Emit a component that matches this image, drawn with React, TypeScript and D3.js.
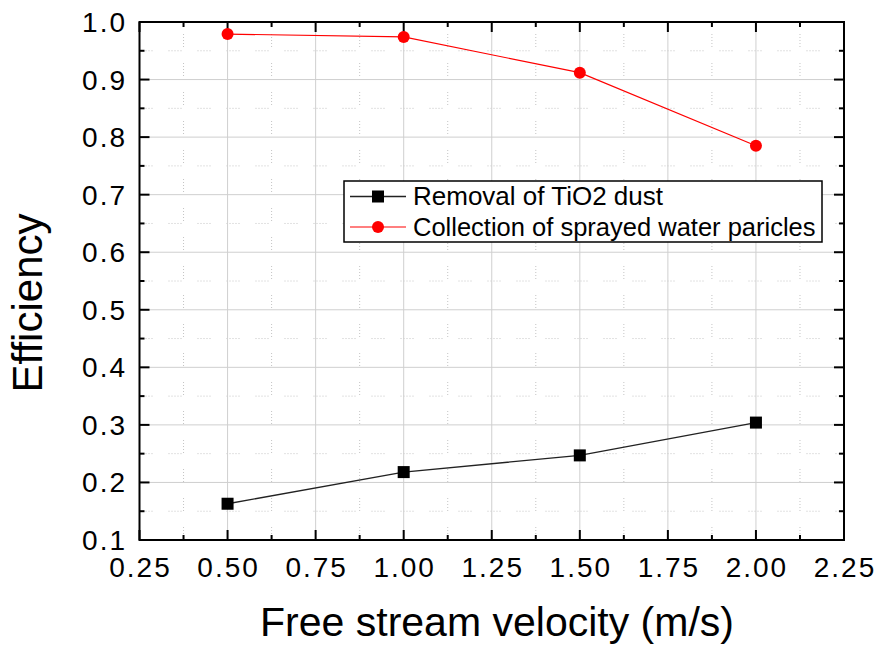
import React from "react";
import * as d3 from "d3";

// data
const velocity = [0.5, 1.0, 1.5, 2.0];
const removalTiO2 = [0.163, 0.218, 0.247, 0.304];
const sprayCollection = [0.979, 0.974, 0.912, 0.785];

const xTicks = [0.25, 0.5, 0.75, 1.0, 1.25, 1.5, 1.75, 2.0, 2.25];
const yTicks = [0.1, 0.2, 0.3, 0.4, 0.5, 0.6, 0.7, 0.8, 0.9, 1.0];

const seriesNames = ["Removal of TiO2 dust", "Collection of sprayed water paricles"];

const W = 877;
const H = 646;
const plot = { left: 139.5, right: 844, top: 22, bottom: 540 };
const font = "'Liberation Sans', Arial, sans-serif";

const App = () => {
  const x = d3.scaleLinear().domain([0.25, 2.25]).range([plot.left, plot.right]);
  const y = d3.scaleLinear().domain([0.1, 1.0]).range([plot.bottom, plot.top]);

  const xMinor = xTicks.slice(0, -1).map((t) => t + 0.125);
  const yMinor = yTicks.slice(0, -1).map((t) => t + 0.05);

  const line = d3
    .line<number>()
    .x((_, i) => x(velocity[i]))
    .y((d) => y(d));

  const dotted = "1,2,1,2,1,2,1,2,1,16";
  const majorLen = 10;
  const minorLen = 5;

  return (
    <svg
      width={W}
      height={H}
      style={{ position: "absolute", left: 0, top: 0, background: "#fff" }}
      fontFamily={font}
    >
      {/* minor grid */}
      {xMinor.map((t) => (
        <line
          key={`xm-${t}`}
          x1={x(t)}
          x2={x(t)}
          y1={plot.bottom}
          y2={plot.top}
          stroke="#c4c4c4"
          strokeDasharray={dotted}
        />
      ))}
      {yMinor.map((t) => (
        <line
          key={`ym-${t}`}
          x1={plot.left}
          x2={plot.right}
          y1={y(t)}
          y2={y(t)}
          stroke="#c4c4c4"
          strokeDasharray={dotted}
        />
      ))}

      {/* major grid */}
      {xTicks.slice(1, -1).map((t) => (
        <line key={`xg-${t}`} x1={x(t)} x2={x(t)} y1={plot.bottom} y2={plot.top} stroke="#cfcfcf" />
      ))}
      {yTicks.slice(1, -1).map((t) => (
        <line key={`yg-${t}`} x1={plot.left} x2={plot.right} y1={y(t)} y2={y(t)} stroke="#cfcfcf" />
      ))}

      {/* ticks, pointing inward on all four sides */}
      {xTicks.map((t) => (
        <g key={`xt-${t}`} stroke="#000" strokeWidth={2}>
          <line x1={x(t)} x2={x(t)} y1={plot.bottom} y2={plot.bottom - majorLen} />
          <line x1={x(t)} x2={x(t)} y1={plot.top} y2={plot.top + majorLen} />
        </g>
      ))}
      {xMinor.map((t) => (
        <g key={`xmt-${t}`} stroke="#000" strokeWidth={2}>
          <line x1={x(t)} x2={x(t)} y1={plot.bottom} y2={plot.bottom - minorLen} />
          <line x1={x(t)} x2={x(t)} y1={plot.top} y2={plot.top + minorLen} />
        </g>
      ))}
      {yTicks.map((t) => (
        <g key={`yt-${t}`} stroke="#000" strokeWidth={2}>
          <line x1={plot.left} x2={plot.left + majorLen} y1={y(t)} y2={y(t)} />
          <line x1={plot.right} x2={plot.right - majorLen} y1={y(t)} y2={y(t)} />
        </g>
      ))}
      {yMinor.map((t) => (
        <g key={`ymt-${t}`} stroke="#000" strokeWidth={2}>
          <line x1={plot.left} x2={plot.left + minorLen} y1={y(t)} y2={y(t)} />
          <line x1={plot.right} x2={plot.right - minorLen} y1={y(t)} y2={y(t)} />
        </g>
      ))}

      {/* frame */}
      <rect
        x={plot.left}
        y={plot.top}
        width={plot.right - plot.left}
        height={plot.bottom - plot.top}
        fill="none"
        stroke="#000"
        strokeWidth={2}
      />

      {/* tick labels */}
      {xTicks.map((t) => (
        <text
          key={`xl-${t}`}
          x={x(t) + 1}
          y={577}
          textAnchor="middle"
          fontSize={28}
          letterSpacing={2}
          fill="#000"
        >
          {t.toFixed(2)}
        </text>
      ))}
      {yTicks.map((t) => (
        <text
          key={`yl-${t}`}
          x={127}
          y={y(t) + 10}
          textAnchor="end"
          fontSize={28}
          letterSpacing={2}
          fill="#000"
        >
          {t.toFixed(1)}
        </text>
      ))}

      {/* series */}
      <path d={line(removalTiO2) || ""} fill="none" stroke="#222" strokeWidth={1.3} />
      {removalTiO2.map((d, i) => (
        <rect key={`sq-${i}`} x={x(velocity[i]) - 6} y={y(d) - 6} width={12} height={12} fill="#000" />
      ))}
      <path d={line(sprayCollection) || ""} fill="none" stroke="#ff0000" strokeWidth={1.2} />
      {sprayCollection.map((d, i) => (
        <circle key={`ci-${i}`} cx={x(velocity[i])} cy={y(d)} r={6} fill="#ff0000" />
      ))}

      {/* legend */}
      <g>
        <rect x={344} y={181} width={478} height={61} fill="#fff" stroke="#000" strokeWidth={1.5} />
        <line x1={350} x2={406} y1={196.5} y2={196.5} stroke="#222" strokeWidth={1.3} />
        <rect x={372} y={190.5} width={12} height={12} fill="#000" />
        <text x={413} y={205} fontSize={26} fill="#000">
          {seriesNames[0]}
        </text>
        <line x1={350} x2={406} y1={227} y2={227} stroke="#ff0000" strokeWidth={1.2} />
        <circle cx={378} cy={227} r={6} fill="#ff0000" />
        <text x={413} y={236} fontSize={25.5} fill="#000">
          {seriesNames[1]}
        </text>
      </g>

      {/* axis titles */}
      <text x={497} y={636} textAnchor="middle" fontSize={41} fill="#000">
        Free stream velocity (m/s)
      </text>
      <text
        transform={`translate(42, 303) rotate(-90)`}
        textAnchor="middle"
        fontSize={42}
        fill="#000"
      >
        Efficiency
      </text>
    </svg>
  );
};

export default App;
